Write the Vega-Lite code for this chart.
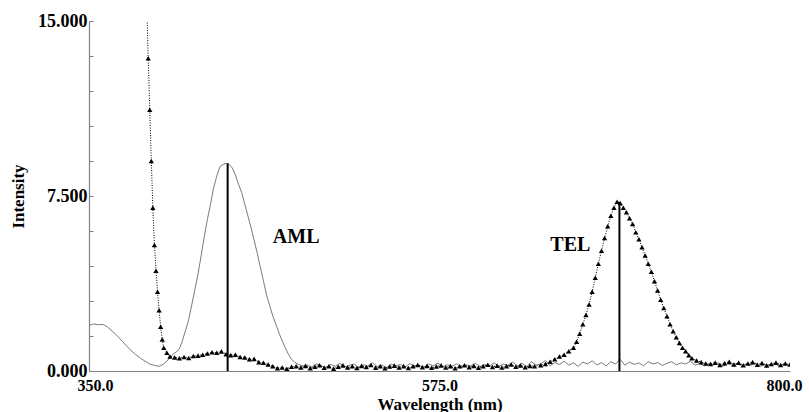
{
  "$schema": "https://vega.github.io/schema/vega-lite/v6.json",
  "width": 701,
  "height": 350,
  "autosize": "none",
  "padding": {"left": 89, "top": 21, "right": 19, "bottom": 41},
  "background": "white",
  "config": {"view": {"stroke": null}},
  "datasets": {
    "aml": [
      {"wl":350,"v":1.95},{"wl":353,"v":2.02},{"wl":356,"v":1.98},{"wl":359,"v":2.0},{"wl":362,"v":1.88},{"wl":365,"v":1.7},{"wl":368,"v":1.52},{"wl":371,"v":1.3},{"wl":374,"v":1.08},{"wl":377,"v":0.88},{"wl":380,"v":0.7},{"wl":383,"v":0.55},{"wl":386,"v":0.42},{"wl":389,"v":0.3},{"wl":392,"v":0.24},{"wl":395,"v":0.2},{"wl":398,"v":0.3},{"wl":400,"v":0.42},{"wl":402,"v":0.58},{"wl":404,"v":0.72},{"wl":406,"v":0.82},{"wl":408,"v":0.95},{"wl":410,"v":1.3},{"wl":412,"v":1.75},{"wl":414,"v":2.2},{"wl":416,"v":2.85},{"wl":418,"v":3.5},{"wl":420,"v":4.15},{"wl":422,"v":4.95},{"wl":424,"v":5.75},{"wl":426,"v":6.5},{"wl":428,"v":7.15},{"wl":430,"v":7.85},{"wl":432,"v":8.35},{"wl":434,"v":8.75},{"wl":436,"v":8.85},{"wl":438,"v":8.9},{"wl":440,"v":8.85},{"wl":442,"v":8.7},{"wl":444,"v":8.4},{"wl":446,"v":8.0},{"wl":448,"v":7.65},{"wl":450,"v":7.15},{"wl":452,"v":6.65},{"wl":454,"v":6.15},{"wl":456,"v":5.6},{"wl":458,"v":5.05},{"wl":460,"v":4.45},{"wl":462,"v":3.85},{"wl":464,"v":3.25},{"wl":466,"v":2.8},{"wl":468,"v":2.35},{"wl":470,"v":2.0},{"wl":472,"v":1.62},{"wl":474,"v":1.3},{"wl":476,"v":1.0},{"wl":478,"v":0.72},{"wl":480,"v":0.5},{"wl":482,"v":0.38},{"wl":484,"v":0.3},{"wl":487,"v":0.22},
      {"wl":490,"v":0.25},{"wl":493,"v":0.18},{"wl":496,"v":0.3},{"wl":499,"v":0.22},{"wl":502,"v":0.15},{"wl":505,"v":0.28},{"wl":508,"v":0.2},{"wl":511,"v":0.33},{"wl":514,"v":0.18},{"wl":517,"v":0.24},{"wl":520,"v":0.3},{"wl":523,"v":0.16},{"wl":526,"v":0.27},{"wl":529,"v":0.21},{"wl":532,"v":0.35},{"wl":535,"v":0.19},{"wl":538,"v":0.26},{"wl":541,"v":0.14},{"wl":544,"v":0.3},{"wl":547,"v":0.22},{"wl":550,"v":0.28},{"wl":553,"v":0.17},{"wl":556,"v":0.32},{"wl":559,"v":0.2},{"wl":562,"v":0.25},{"wl":565,"v":0.15},{"wl":568,"v":0.3},{"wl":571,"v":0.23},{"wl":574,"v":0.34},{"wl":577,"v":0.18},{"wl":580,"v":0.27},{"wl":583,"v":0.2},{"wl":586,"v":0.31},{"wl":589,"v":0.16},{"wl":592,"v":0.26},{"wl":595,"v":0.22},{"wl":598,"v":0.33},{"wl":601,"v":0.19},{"wl":604,"v":0.28},{"wl":607,"v":0.21},{"wl":610,"v":0.35},{"wl":613,"v":0.2},{"wl":616,"v":0.3},{"wl":619,"v":0.24},{"wl":622,"v":0.38},{"wl":625,"v":0.22},{"wl":628,"v":0.33},{"wl":631,"v":0.18},{"wl":634,"v":0.4},{"wl":637,"v":0.25},{"wl":640,"v":0.3},{"wl":643,"v":0.45},{"wl":646,"v":0.22},{"wl":649,"v":0.36},{"wl":652,"v":0.28},{"wl":655,"v":0.42},{"wl":658,"v":0.25},{"wl":661,"v":0.35},{"wl":664,"v":0.2},{"wl":667,"v":0.38},{"wl":670,"v":0.3},{"wl":673,"v":0.44},{"wl":676,"v":0.26},{"wl":679,"v":0.36},{"wl":682,"v":0.22},{"wl":685,"v":0.4},{"wl":688,"v":0.3},{"wl":691,"v":0.5},{"wl":694,"v":0.25},{"wl":697,"v":0.38},{"wl":700,"v":0.28},{"wl":703,"v":0.35},{"wl":706,"v":0.22},{"wl":709,"v":0.4},{"wl":712,"v":0.3},{"wl":715,"v":0.36},{"wl":718,"v":0.24},{"wl":721,"v":0.33},{"wl":724,"v":0.4},{"wl":727,"v":0.26},{"wl":730,"v":0.35},{"wl":733,"v":0.3},{"wl":736,"v":0.42},{"wl":739,"v":0.25},{"wl":742,"v":0.32},{"wl":745,"v":0.22},{"wl":748,"v":0.3},{"wl":751,"v":0.27},{"wl":754,"v":0.35},{"wl":757,"v":0.2},{"wl":760,"v":0.3},{"wl":763,"v":0.25},{"wl":766,"v":0.33},{"wl":769,"v":0.22},{"wl":772,"v":0.3},{"wl":775,"v":0.26},{"wl":778,"v":0.34},{"wl":781,"v":0.2},{"wl":784,"v":0.28},{"wl":787,"v":0.24},{"wl":790,"v":0.32},{"wl":793,"v":0.22},{"wl":796,"v":0.3},{"wl":799,"v":0.25}
    ],
    "tel": [
      {"wl":384,"v":22},{"wl":386,"v":18},{"wl":387,"v":15.8},{"wl":388,"v":13.4},{"wl":389,"v":11.2},{"wl":390,"v":9.0},{"wl":391,"v":7.0},{"wl":392,"v":5.4},{"wl":393,"v":4.3},{"wl":394,"v":3.4},{"wl":395,"v":2.6},{"wl":396,"v":1.9},{"wl":397,"v":1.35},{"wl":398,"v":1.0},{"wl":400,"v":0.78},{"wl":402,"v":0.62},{"wl":405,"v":0.58},{"wl":408,"v":0.55},{"wl":411,"v":0.6},{"wl":414,"v":0.56},{"wl":417,"v":0.64},{"wl":420,"v":0.66},{"wl":423,"v":0.7},{"wl":426,"v":0.75},{"wl":429,"v":0.8},{"wl":432,"v":0.78},{"wl":435,"v":0.84},{"wl":438,"v":0.72},{"wl":441,"v":0.68},{"wl":444,"v":0.7},{"wl":447,"v":0.6},{"wl":450,"v":0.58},{"wl":453,"v":0.5},{"wl":456,"v":0.52},{"wl":459,"v":0.38},{"wl":462,"v":0.35},{"wl":465,"v":0.28},{"wl":468,"v":0.2},{"wl":471,"v":0.12},{"wl":474,"v":0.15},{"wl":477,"v":0.1},{"wl":480,"v":0.18},
      {"wl":483,"v":0.2},{"wl":486,"v":0.15},{"wl":489,"v":0.22},{"wl":492,"v":0.12},{"wl":495,"v":0.18},{"wl":498,"v":0.25},{"wl":501,"v":0.14},{"wl":504,"v":0.2},{"wl":507,"v":0.1},{"wl":510,"v":0.18},{"wl":513,"v":0.24},{"wl":516,"v":0.15},{"wl":519,"v":0.2},{"wl":522,"v":0.13},{"wl":525,"v":0.22},{"wl":528,"v":0.17},{"wl":531,"v":0.26},{"wl":534,"v":0.14},{"wl":537,"v":0.2},{"wl":540,"v":0.12},{"wl":543,"v":0.19},{"wl":546,"v":0.23},{"wl":549,"v":0.15},{"wl":552,"v":0.21},{"wl":555,"v":0.13},{"wl":558,"v":0.2},{"wl":561,"v":0.26},{"wl":564,"v":0.16},{"wl":567,"v":0.22},{"wl":570,"v":0.14},{"wl":573,"v":0.19},{"wl":576,"v":0.24},{"wl":579,"v":0.15},{"wl":582,"v":0.21},{"wl":585,"v":0.12},{"wl":588,"v":0.2},{"wl":591,"v":0.25},{"wl":594,"v":0.16},{"wl":597,"v":0.22},{"wl":600,"v":0.14},{"wl":603,"v":0.2},{"wl":606,"v":0.27},{"wl":609,"v":0.17},{"wl":612,"v":0.23},{"wl":615,"v":0.15},{"wl":618,"v":0.21},{"wl":621,"v":0.28},{"wl":624,"v":0.18},{"wl":627,"v":0.24},{"wl":630,"v":0.16},{"wl":633,"v":0.22},{"wl":636,"v":0.2},
      {"wl":640,"v":0.25},{"wl":643,"v":0.3},{"wl":646,"v":0.4},{"wl":649,"v":0.5},{"wl":652,"v":0.62},{"wl":655,"v":0.7},{"wl":658,"v":0.85},{"wl":661,"v":1.0},{"wl":663,"v":1.25},{"wl":665,"v":1.6},{"wl":667,"v":2.0},{"wl":669,"v":2.4},{"wl":671,"v":2.85},{"wl":673,"v":3.4},{"wl":675,"v":4.0},{"wl":677,"v":4.6},{"wl":679,"v":5.15},{"wl":681,"v":5.7},{"wl":683,"v":6.2},{"wl":685,"v":6.65},{"wl":687,"v":7.0},{"wl":689,"v":7.25},{"wl":691,"v":7.2},{"wl":693,"v":7.0},{"wl":695,"v":6.8},{"wl":697,"v":6.55},{"wl":699,"v":6.3},{"wl":701,"v":5.95},{"wl":703,"v":5.65},{"wl":705,"v":5.3},{"wl":707,"v":4.95},{"wl":709,"v":4.6},{"wl":711,"v":4.25},{"wl":713,"v":3.85},{"wl":715,"v":3.45},{"wl":717,"v":3.05},{"wl":719,"v":2.7},{"wl":721,"v":2.35},{"wl":723,"v":2.0},{"wl":725,"v":1.7},{"wl":727,"v":1.45},{"wl":729,"v":1.2},{"wl":731,"v":1.0},{"wl":733,"v":0.85},{"wl":735,"v":0.68},{"wl":737,"v":0.55},{"wl":740,"v":0.45},{"wl":743,"v":0.38},{"wl":746,"v":0.32},
      {"wl":749,"v":0.3},{"wl":752,"v":0.36},{"wl":755,"v":0.26},{"wl":758,"v":0.33},{"wl":761,"v":0.4},{"wl":764,"v":0.28},{"wl":767,"v":0.35},{"wl":770,"v":0.25},{"wl":773,"v":0.32},{"wl":776,"v":0.38},{"wl":779,"v":0.27},{"wl":782,"v":0.34},{"wl":785,"v":0.24},{"wl":788,"v":0.3},{"wl":791,"v":0.36},{"wl":794,"v":0.26},{"wl":797,"v":0.32},{"wl":800,"v":0.28}
    ],
    "peaks": [
      {"wl":439,"base":0,"top":8.9},
      {"wl":690.5,"base":0,"top":7.24}
    ],
    "labels": [
      {"wl":483,"v":5.74,"label":"AML"},
      {"wl":659,"v":5.4,"label":"TEL"}
    ]
  },
  "layer": [
    {
      "data": {"name": "aml"},
      "mark": {"type": "line", "color": "#7a7a7a", "strokeWidth": 1, "clip": true},
      "encoding": {
        "x": {
          "field": "wl", "type": "quantitative",
          "scale": {"domain": [350, 800], "nice": false, "zero": false},
          "axis": {
            "values": [350, 575, 800], "tickCount": 3, "format": ".1f", "ticks": false, "grid": false,
            "domainColor": "#808080", "domainWidth": 1.2,
            "labelFont": "Liberation Serif", "labelFontWeight": "bold", "labelFontSize": 16, "labelColor": "black",
            "labelPadding": 6, "labelFlush": true, "labelFlushOffset": 12, "labelOverlap": false,
            "title": "Wavelength (nm)", "titleFont": "Liberation Serif", "titleFontWeight": "bold", "titleFontSize": 17, "titleColor": "black",
            "titleY": 33, "titleBaseline": "middle"
          }
        },
        "y": {
          "field": "v", "type": "quantitative",
          "scale": {"domain": [0, 15], "nice": false},
          "axis": {
            "values": [0, 1.5, 3, 4.5, 6, 7.5, 9, 10.5, 12, 13.5, 15],
            "tickCount": 11,
            "labelExpr": "datum.value == 0 || datum.value == 7.5 || datum.value == 15 ? format(datum.value, '.3f') : ''",
            "labelOverlap": false,
            "grid": false, "domainColor": "#808080", "domainWidth": 1.2,
            "tickColor": "#808080", "tickSize": -4,
            "labelFont": "Liberation Serif", "labelFontWeight": "bold", "labelFontSize": 18, "labelColor": "black",
            "labelPadding": 6,
            "title": "Intensity", "titleFont": "Liberation Serif", "titleFontWeight": "bold", "titleFontSize": 17, "titleColor": "black",
            "titleX": -71, "titleY": 175, "titleAngle": -90, "titleAlign": "center", "titleBaseline": "middle"
          }
        }
      }
    },
    {
      "data": {"name": "tel"},
      "mark": {"type": "line", "color": "black", "strokeWidth": 1, "strokeDash": [1, 1.5], "clip": true,
               "point": {"shape": "triangle-up", "size": 28, "filled": true, "color": "black"}},
      "encoding": {
        "x": {"field": "wl", "type": "quantitative"},
        "y": {"field": "v", "type": "quantitative"}
      }
    },
    {
      "data": {"name": "peaks"},
      "mark": {"type": "rule", "color": "black", "strokeWidth": 2},
      "encoding": {
        "x": {"field": "wl", "type": "quantitative"},
        "y": {"field": "base", "type": "quantitative"},
        "y2": {"field": "top"}
      }
    },
    {
      "data": {"name": "labels"},
      "mark": {"type": "text", "font": "Liberation Serif", "fontWeight": "bold", "fontSize": 20, "color": "black", "align": "center", "baseline": "middle"},
      "encoding": {
        "x": {"field": "wl", "type": "quantitative"},
        "y": {"field": "v", "type": "quantitative"},
        "text": {"field": "label", "type": "nominal"}
      }
    }
  ]
}
